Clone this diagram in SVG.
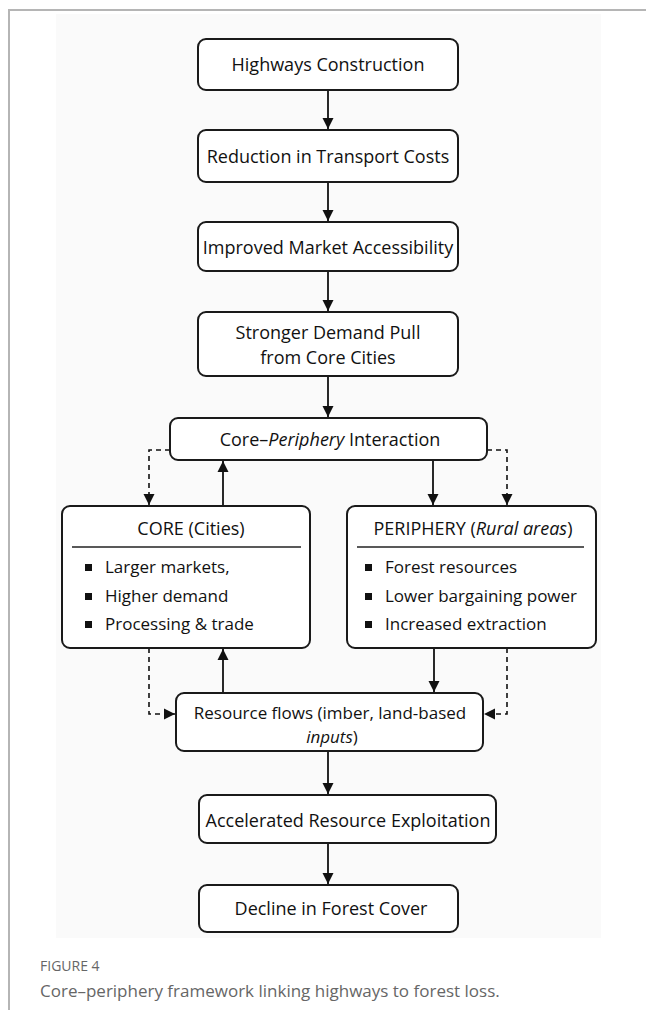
<svg xmlns="http://www.w3.org/2000/svg" width="646" height="1010" viewBox="0 0 646 1010">
<style>
.box{fill:#fff;stroke:#1a1a1a;stroke-width:2}
.t{font-family:"Open Sans","Noto Sans","DejaVu Sans",sans-serif;font-size:18px;fill:#111;text-anchor:middle}
.b{font-family:"Open Sans","Noto Sans","DejaVu Sans",sans-serif;font-size:17px;fill:#111}
.s{fill:none;stroke:#111;stroke-width:1.8}
.d{fill:none;stroke:#111;stroke-width:1.6;stroke-dasharray:5 4}
.cap{font-family:"Open Sans","Noto Sans",sans-serif;fill:#666}
</style>
<defs>
<marker id="ah" markerWidth="12" markerHeight="12" viewBox="0 0 12 12" refX="11" refY="6" orient="auto" markerUnits="userSpaceOnUse">
<path d="M0,0.5 L11,6 L0,11.5 Z" fill="#111"/>
</marker>
</defs>
<rect x="0" y="0" width="646" height="1010" fill="#fff"/>
<rect x="56" y="14" width="545" height="924" fill="#fafafa"/>
<path d="M9,1010 V10 H646" fill="none" stroke="#b5b5b5" stroke-width="2"/>

<g id="connectors">
<line class="s" x1="328" y1="91" x2="328" y2="129" marker-end="url(#ah)"/>
<line class="s" x1="328" y1="183" x2="328" y2="221" marker-end="url(#ah)"/>
<line class="s" x1="328" y1="272" x2="328" y2="311" marker-end="url(#ah)"/>
<line class="s" x1="328" y1="377" x2="328" y2="417" marker-end="url(#ah)"/>
<line class="s" x1="223" y1="505" x2="223" y2="461" marker-end="url(#ah)"/>
<line class="s" x1="433" y1="461" x2="433" y2="505" marker-end="url(#ah)"/>
<polyline class="d" points="170,450 149,450 149,505" marker-end="url(#ah)"/>
<polyline class="d" points="487,450 507,450 507,505" marker-end="url(#ah)"/>
<polyline class="d" points="149,648 149,714 175,714" marker-end="url(#ah)"/>
<polyline class="d" points="507,648 507,714 484,714" marker-end="url(#ah)"/>
<line class="s" x1="223" y1="693" x2="223" y2="649" marker-end="url(#ah)"/>
<line class="s" x1="434" y1="649" x2="434" y2="692" marker-end="url(#ah)"/>
<line class="s" x1="328" y1="752" x2="328" y2="794" marker-end="url(#ah)"/>
<line class="s" x1="328" y1="844" x2="328" y2="884" marker-end="url(#ah)"/>
</g>

<g id="n1"><rect class="box" x="198" y="39" width="260" height="51" rx="8"/><text class="t" x="328" y="71">Highways Construction</text></g>
<g id="n2"><rect class="box" x="198" y="130" width="260" height="52" rx="8"/><text class="t" x="328" y="163">Reduction in Transport Costs</text></g>
<g id="n3"><rect class="box" x="198" y="222" width="260" height="49" rx="8"/><text class="t" x="328" y="254">Improved Market Accessibility</text></g>
<g id="n4"><rect class="box" x="198" y="312" width="260" height="64" rx="8"/><text class="t" x="328" y="339">Stronger Demand Pull</text><text class="t" x="328" y="364">from Core Cities</text></g>
<g id="n5"><rect class="box" x="170" y="418" width="317" height="42" rx="8"/><text class="t" x="330" y="446">Core–<tspan font-style="italic">Periphery</tspan> Interaction</text></g>

<g id="core"><rect class="box" x="62" y="506" width="248" height="142" rx="8"/>
<text class="t" x="191" y="535">CORE (Cities)</text>
<line x1="72" y1="547" x2="301" y2="547" stroke="#222" stroke-width="1.5"/>
<rect x="85" y="564" width="7" height="7" fill="#111"/><text class="b" x="105" y="573">Larger markets,</text>
<rect x="85" y="593" width="7" height="7" fill="#111"/><text class="b" x="105" y="602">Higher demand</text>
<rect x="85" y="621" width="7" height="7" fill="#111"/><text class="b" x="105" y="630">Processing &amp; trade</text>
</g>

<g id="periphery"><rect class="box" x="347" y="506" width="249" height="142" rx="8"/>
<text class="t" x="473" y="535">PERIPHERY (<tspan font-style="italic">Rural areas</tspan>)</text>
<line x1="357" y1="547" x2="584" y2="547" stroke="#222" stroke-width="1.5"/>
<rect x="365" y="564" width="7" height="7" fill="#111"/><text class="b" x="385" y="573">Forest resources</text>
<rect x="365" y="593" width="7" height="7" fill="#111"/><text class="b" x="385" y="602">Lower bargaining power</text>
<rect x="365" y="621" width="7" height="7" fill="#111"/><text class="b" x="385" y="630">Increased extraction</text>
</g>

<g id="flows"><rect class="box" x="176" y="693" width="307" height="58" rx="8"/>
<text class="t" x="330" y="719" style="font-size:17px">Resource flows (imber, land-based</text>
<text class="t" x="332" y="743" style="font-size:17px"><tspan font-style="italic">inputs</tspan>)</text>
</g>

<g id="n6"><rect class="box" x="199" y="795" width="297" height="48" rx="8"/><text class="t" x="348" y="827">Accelerated Resource Exploitation</text></g>
<g id="n7"><rect class="box" x="199" y="885" width="259" height="47" rx="8"/><text class="t" x="331" y="915">Decline in Forest Cover</text></g>

<g id="caption">
<text class="cap" x="40" y="971" style="font-size:14px">FIGURE 4</text>
<text class="cap" x="40" y="997" style="font-size:17px">Core–periphery framework linking highways to forest loss.</text>
</g>
</svg>
